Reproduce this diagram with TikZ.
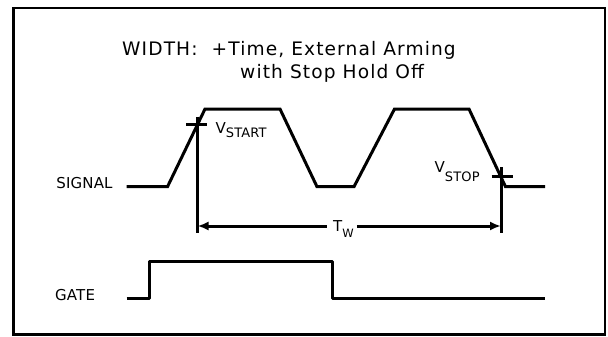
\documentclass[tikz,border=0pt]{standalone}
\usepackage{fontspec}
\setmainfont{DejaVu Sans}
\newfontfamily\titlefont[LetterSpace=6]{DejaVu Sans}
\newfontfamily\labelfont[LetterSpace=1]{DejaVu Sans}
\newcommand\subfnt{\fontsize{13}{15}\selectfont}
\usetikzlibrary{arrows.meta}
\begin{document}
\begin{tikzpicture}[x=1pt,y=-1pt,
  wave/.style={line width=3pt},
  marker/.style={line width=3pt},
  frame/.style={line width=2.8pt},
  titletxt/.style={anchor=base west, inner sep=0pt, font=\titlefont\fontsize{18.6}{22}\selectfont},
  lab/.style={anchor=base west, inner sep=0pt, font=\labelfont\fontsize{15}{17}\selectfont},
  mytip/.tip={Latex[length=11pt,width=9pt]}]
\useasboundingbox (0,0) rectangle (608,337);
\draw[frame] (13.5,8) rectangle (605,334.5);
% title
\node[titletxt] (title1) at (122,55.5) {WIDTH:~~+Time, External Arming};
\node[titletxt] (title2) at (240,79) {with Stop Hold Off};
% signal waveform
\draw[wave] (126.7,186.7) -- (167.5,186.7) -- (205,109) -- (280,109) -- (317,186.7)
  -- (354,186.7) -- (394.5,109) -- (469,109) -- (505.5,186.7) -- (545,186.7);
% gate waveform
\draw[wave, line join=round] (126.7,298.5) -- (149,298.5) -- (149,261.5) -- (332.5,261.5)
  -- (332.5,298.5) -- (544.6,298.5);
% labels
\node[lab] (sig) at (56.2,188) {SIGNAL};
\node[lab] (gate) at (55,300) {GATE};
\node[lab] (vstart) at (215.5,133) {V\raisebox{-4pt}{\subfnt START}};
\node[lab] (vstop) at (434.5,172) {V\raisebox{-9pt}{\subfnt STOP}};
\node[lab] (tw) at (333,231.5) {T\raisebox{-6pt}{\fontsize{11.5}{13}\selectfont W}};
% markers
\coordinate (vsTop) at (197.5,116.7);
\coordinate (vsBot) at (197.5,232.7);
\coordinate (veTop) at (501,167.3);
\coordinate (veBot) at (501,232.7);
\coordinate (tsL) at (186,124.5);
\coordinate (tsR) at (207,124.5);
\coordinate (teL) at (491.5,176);
\coordinate (teR) at (512.5,176);
\coordinate (aL) at (197.5,226);
\coordinate (aR) at (501,226);
\draw[marker] (vsTop) -- (vsBot);
\draw[marker] (veTop) -- (veBot);
\draw[marker] (tsL) -- (tsR);
\draw[marker] (teL) -- (teR);
\draw[marker, mytip-, shorten >=6pt] (aL) -- (aL -| tw.west);
\draw[marker, -mytip, shorten <=3pt] (aR -| tw.east) -- (aR);
\end{tikzpicture}
\end{document}
